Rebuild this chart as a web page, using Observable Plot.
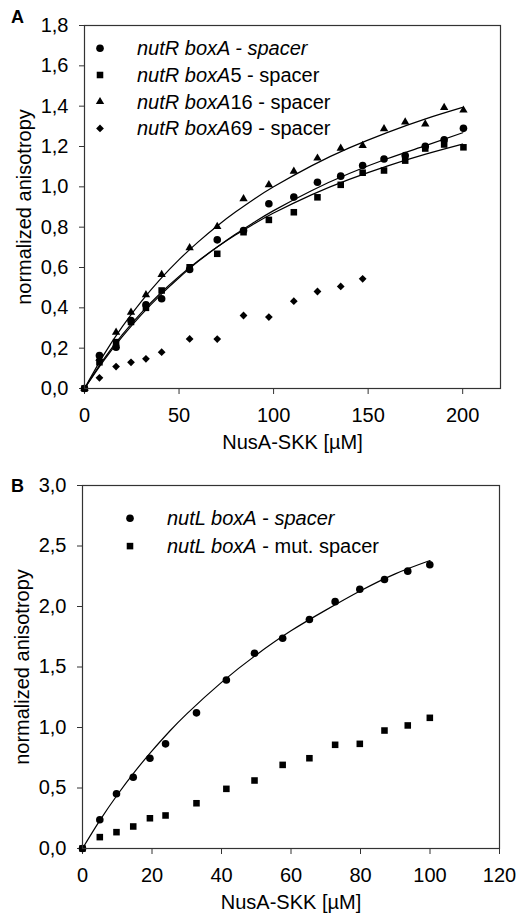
<!DOCTYPE html>
<html>
<head>
<meta charset="utf-8">
<script src="https://cdn.jsdelivr.net/npm/d3@7"></script>
<script src="https://cdn.jsdelivr.net/npm/@observablehq/plot@0.6"></script>
<style>
  html, body { margin: 0; padding: 0; background: #fff; }
  #wrap { position: relative; width: 517px; height: 915px; font-family: "Liberation Sans", Arial, sans-serif; }
  #wrap > .panel { position: absolute; left: 0; }
  .plbl { position: absolute; font-weight: bold; font-size: 18px; line-height: 1; }
  svg.legend { position: absolute; left: 0; top: 0; overflow: visible; }
</style>
</head>
<body>
<div id="wrap"></div>
<script>
// ---------- Panel A data ----------
const xA = [0, 7.9, 16.7, 24.6, 32.5, 40.8, 55.6, 70.2, 84.1, 97.5, 110.7, 123.2, 135.5, 147.1, 158.4, 169.6, 180.2, 190.2, 200.4];
const boxA_spacer   = [0, 0.164, 0.205, 0.337, 0.415, 0.445, 0.59, 0.737, 0.783, 0.916, 0.949, 1.023, 1.053, 1.106, 1.138, 1.155, 1.201, 1.233, 1.29];
const boxA5_spacer  = [0, 0.13, 0.23, 0.33, 0.40, 0.486, 0.601, 0.668, 0.775, 0.836, 0.874, 0.948, 1.01, 1.07, 1.081, 1.13, 1.19, 1.21, 1.196];
const boxA16_spacer = [0, 0.15, 0.279, 0.378, 0.465, 0.565, 0.698, 0.803, 0.94, 1.01, 1.077, 1.142, 1.191, 1.205, 1.288, 1.321, 1.311, 1.393, 1.38];
const boxA69_spacer = [0, 0.053, 0.109, 0.13, 0.147, 0.18, 0.246, 0.245, 0.362, 0.354, 0.433, 0.481, 0.506, 0.544];
// fitted curves
const fitXA = [0, 10, 20, 30, 40, 50, 60, 70, 80, 90, 100, 120, 140, 160, 180, 200];
const fitBoxA   = [0, 0.136, 0.257, 0.365, 0.462, 0.549, 0.629, 0.700, 0.766, 0.826, 0.882, 0.981, 1.066, 1.139, 1.203, 1.268];
const fitBoxA5  = [0, 0.143, 0.267, 0.375, 0.471, 0.556, 0.632, 0.700, 0.762, 0.818, 0.870, 0.960, 1.037, 1.103, 1.161, 1.212];
const fitBoxA16 = [0, 0.164, 0.307, 0.431, 0.541, 0.639, 0.726, 0.805, 0.876, 0.941, 1.000, 1.104, 1.193, 1.269, 1.336, 1.394];
const xTicksA = [0, 50, 100, 150, 200];
const yTicksA = [0, 0.2, 0.4, 0.6, 0.8, 1.0, 1.2, 1.4, 1.6, 1.8];

// ---------- Panel B data ----------
const xB = [0, 4.98, 9.78, 14.6, 19.4, 23.9, 32.8, 41.4, 49.5, 57.6, 65.3, 72.7, 79.8, 86.9, 93.6, 99.95];
const nutL_spacer     = [0, 0.237, 0.452, 0.589, 0.746, 0.865, 1.121, 1.393, 1.614, 1.738, 1.893, 2.04, 2.143, 2.223, 2.292, 2.345];
const nutL_mutSpacer  = [0, 0.094, 0.135, 0.182, 0.25, 0.273, 0.374, 0.493, 0.562, 0.691, 0.746, 0.857, 0.865, 0.975, 1.017, 1.08];
const fitXB = [0, 5, 10, 15, 20, 25, 30, 40, 50, 60, 70, 80, 90, 100];
const fitNutL = [0, 0.232, 0.442, 0.633, 0.807, 0.967, 1.113, 1.373, 1.600, 1.799, 1.970, 2.130, 2.270, 2.380];
const xTicksB = [0, 20, 40, 60, 80, 100, 120];
const yTicksB = [0, 0.5, 1.0, 1.5, 2.0, 2.5, 3.0];

const xLabel = "NusA-SKK [µM]";
const yLabel = "normalized anisotropy";

const comma = d => d3.format(".1f")(d).replace(".", ",");
const FONT = "'Liberation Sans', Arial, sans-serif";
const INK = "#000";
const FRAME = "#333";

function pts(xs, ys) { return ys.map((y, i) => ({x: xs[i], y})); }

const symSpec = {
  circle:   {symbol: "circle",   r: 3.8},
  square:   {symbol: "square",   r: 3.7},
  triangle: {symbol: "triangle", r: 3.1},
  diamond:  {symbol: "diamond2", r: 3.5}
};

function dots(data, kind) {
  return Plot.dot(data, {x: "x", y: "y", symbol: symSpec[kind].symbol, r: symSpec[kind].r, fill: INK, stroke: "none"});
}
function fit(data) {
  return Plot.line(data, {x: "x", y: "y", curve: "natural", stroke: INK, strokeWidth: 1.2});
}

function makePanel(cfg) {
  return Plot.plot({
    width: 517, height: cfg.height,
    marginTop: cfg.mt, marginBottom: cfg.mb, marginLeft: cfg.ml, marginRight: cfg.mr,
    style: {fontFamily: FONT, fontSize: "20px", color: INK, background: "white", overflow: "visible"},
    x: {domain: cfg.xDomain},
    y: {domain: cfg.yDomain},
    marks: [
      Plot.axisX({ticks: cfg.xTicks, tickFormat: d => String(d), tickSize: 6, tickPadding: 13,
                  label: xLabel, labelAnchor: "center", labelArrow: "none", labelOffset: 60, stroke: FRAME}),
      Plot.axisY({ticks: cfg.yTicks, tickFormat: comma, tickSize: 5, tickPadding: 11,
                  label: yLabel, labelAnchor: "center", labelArrow: "none", labelOffset: 68, stroke: FRAME}),
      ...cfg.marks,
      Plot.frame({stroke: FRAME, strokeWidth: 1.2})
    ]
  });
}

const wrap = document.getElementById("wrap");

// Panel A
const A = makePanel({
  height: 460, mt: 25, mb: 72, ml: 84, mr: 17,
  xDomain: [0, 220], yDomain: [0, 1.8], xTicks: xTicksA, yTicks: yTicksA,
  marks: [
    fit(pts(fitXA, fitBoxA)), fit(pts(fitXA, fitBoxA5)), fit(pts(fitXA, fitBoxA16)),
    dots(pts(xA, boxA_spacer), "circle"),
    dots(pts(xA, boxA5_spacer), "square"),
    dots(pts(xA, boxA16_spacer), "triangle"),
    dots(pts(xA, boxA69_spacer), "diamond")
  ]
});
A.classList.add("panel"); A.style.top = "0px";
wrap.appendChild(A);

// Panel B
const B = makePanel({
  height: 455, mt: 25, mb: 67, ml: 82, mr: 18,
  xDomain: [0, 120], yDomain: [0, 3.0], xTicks: xTicksB, yTicks: yTicksB,
  marks: [
    fit(pts(fitXB, fitNutL)),
    dots(pts(xB, nutL_spacer), "circle"),
    dots(pts(xB, nutL_mutSpacer), "square")
  ]
});
B.classList.add("panel"); B.style.top = "460px";
wrap.appendChild(B);

// Panel letters
for (const [t, top] of [["A", 8], ["B", 477]]) {
  const d = document.createElement("div");
  d.className = "plbl"; d.textContent = t;
  d.style.left = "11px"; d.style.top = top + "px";
  wrap.appendChild(d);
}

// Legends (overlay)
const legendA = [
  {kind: "circle",   parts: [["nutR boxA - spacer", true]]},
  {kind: "square",   parts: [["nutR boxA", true], ["5 - spacer", false]]},
  {kind: "triangle", parts: [["nutR boxA", true], ["16 - spacer", false]]},
  {kind: "diamond",  parts: [["nutR boxA", true], ["69 - spacer", false]]}
];
const legendB = [
  {kind: "circle", parts: [["nutL boxA", true], [" - ", false], ["spacer", true]]},
  {kind: "square", parts: [["nutL boxA", true], [" - mut. spacer", false]]}
];
const d3sym = {circle: d3.symbolCircle, square: d3.symbolSquare, triangle: d3.symbolTriangle, diamond: d3.symbolDiamond2};

const ov = d3.select(wrap).append("svg").attr("class", "legend")
  .attr("width", 517).attr("height", 915)
  .style("font-family", FONT).style("font-size", "20px");

function drawLegend(items, sx, tx, y0, dy) {
  items.forEach((it, i) => {
    const cy = y0 + i * dy;
    const r = symSpec[it.kind].r;
    ov.append("path").attr("transform", `translate(${sx},${cy})`)
      .attr("d", d3.symbol(d3sym[it.kind], Math.PI * r * r)()).attr("fill", INK);
    const t = ov.append("text").attr("x", tx).attr("y", cy + 7).attr("fill", INK);
    it.parts.forEach(([s, it2]) => {
      t.append("tspan").attr("font-style", it2 ? "italic" : "normal").attr("xml:space", "preserve").text(s);
    });
    t.style("white-space", "pre");
  });
}
drawLegend(legendA, 100, 137, 48.3, 26.7);
drawLegend(legendB, 130, 167, 518.3, 27.8);
</script>
</body>
</html>
